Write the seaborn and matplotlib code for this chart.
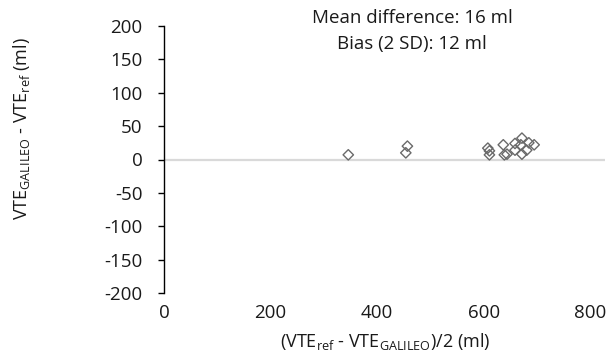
import matplotlib
matplotlib.use("Agg")
import matplotlib.pyplot as plt
import seaborn as sns
import pandas as pd

# Data
mean_vte = [346, 457, 454, 608, 611, 611, 637, 639, 644, 659, 659, 672, 670, 672, 681, 685, 695]
diff_vte = [7, 20, 10, 17, 13, 7, 22, 7, 8, 24, 14, 32, 22, 8, 14, 25, 22]
x_ticks = [0, 200, 400, 600, 800]
y_ticks = [-200, -150, -100, -50, 0, 50, 100, 150, 200]
annotation = ["Mean difference: 16 ml", "Bias (2 SD): 12 ml"]

df = pd.DataFrame({"mean": mean_vte, "diff": diff_vte})

sns.set_theme(style="white")
plt.rcParams["font.family"] = ["Open Sans", "DejaVu Sans"]
plt.rcParams["mathtext.fontset"] = "custom"
plt.rcParams["mathtext.rm"] = "Open Sans"
plt.rcParams["mathtext.it"] = "Open Sans"
plt.rcParams["mathtext.bf"] = "Open Sans"

FS = 13.5
TXT = "#1a1a1a"
W, H = 611, 356
fig = plt.figure(figsize=(W / 100, H / 100), dpi=100)
left, right, top, bottom = 164, 605, 26, 293
ax = fig.add_axes([left / W, 1 - bottom / H, (right - left) / W, (bottom - top) / H])

ax.axhline(0, color="#d9d9d9", lw=1.6, zorder=1)
sns.scatterplot(data=df, x="mean", y="diff", ax=ax, marker="D", s=28,
                facecolor="none", edgecolor="#6a6a6a", linewidth=1.0, zorder=3)

ax.set_xlim(0, 828)
ax.set_ylim(-200, 200)
ax.set_xticks(x_ticks)
ax.set_yticks(y_ticks)
ax.set_xticklabels([str(v) for v in x_ticks], fontsize=FS, color=TXT)
ax.set_yticklabels([str(v) for v in y_ticks], fontsize=FS, color=TXT)
ax.tick_params(axis="x", length=0, pad=8)
ax.tick_params(axis="y", length=4.5, width=1, color="black", pad=11, direction="out", left=True)

for s in ["top", "right", "bottom"]:
    ax.spines[s].set_visible(False)
ax.spines["left"].set_color("black")
ax.spines["left"].set_linewidth(1)
ax.set_xlabel("")
ax.set_ylabel("")

fig.text(22 / W, 1 - 129 / H, r"VTE$_{\mathrm{GALILEO}}$ - VTE$_{\mathrm{ref}}$ (ml)",
         rotation=90, ha="center", va="center", fontsize=13, color=TXT)
fig.text(385 / W, 1 - 342 / H, r"(VTE$_{\mathrm{ref}}$ - VTE$_{\mathrm{GALILEO}}$)/2 (ml)",
         ha="center", va="center", fontsize=13, color=TXT)
fig.text(412 / W, 1 - 18 / H, annotation[0], ha="center", va="center", fontsize=FS, color=TXT)
fig.text(412 / W, 1 - 44 / H, annotation[1], ha="center", va="center", fontsize=FS, color=TXT)

fig.savefig("out.png", dpi=100)
